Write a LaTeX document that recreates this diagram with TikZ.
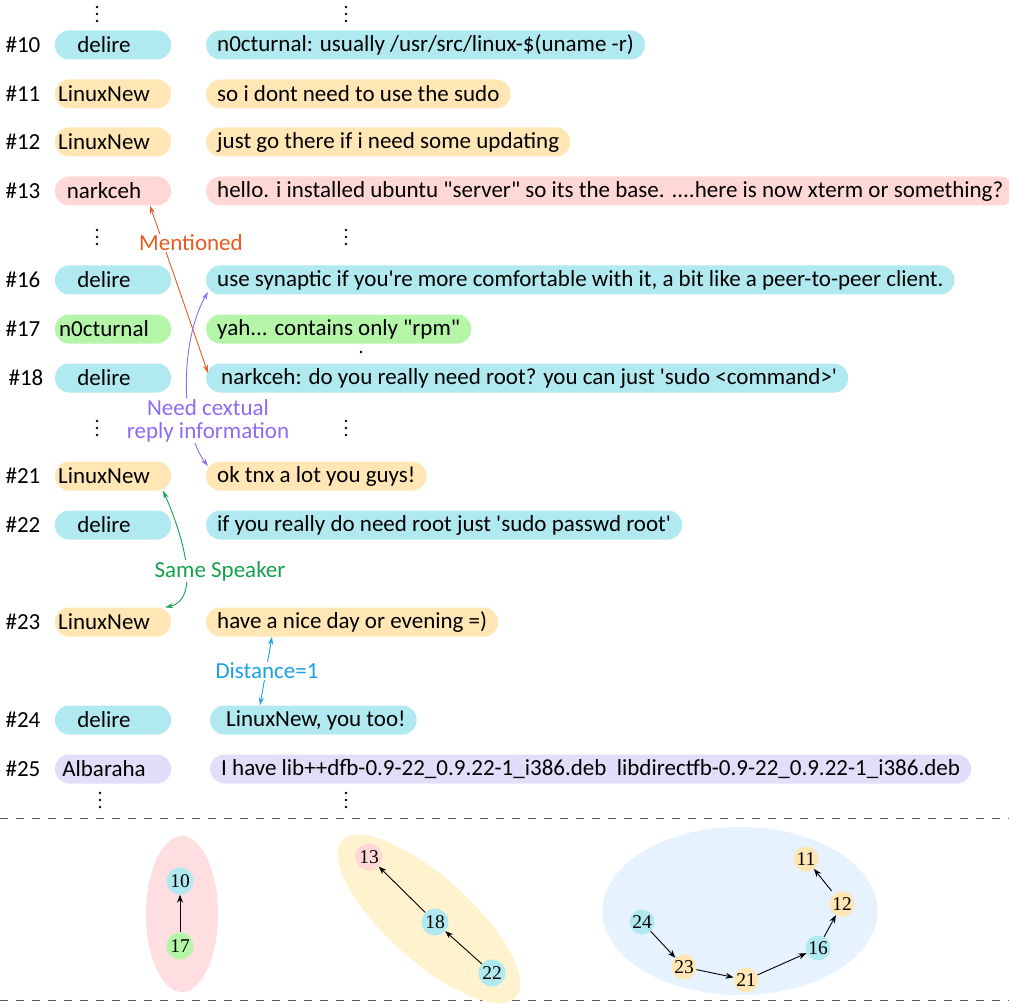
\documentclass[tikz,border=0pt]{standalone}
\usepackage{fontspec}
\newfontfamily\carl{Carlito}
\newfontfamily\numfont{Liberation Serif}
\usetikzlibrary{arrows.meta,shapes.geometric}
\definecolor{cy}{HTML}{B0EAF0}
\definecolor{yl}{HTML}{FFE6B4}
\definecolor{pk}{HTML}{FFD8D6}
\definecolor{gr}{HTML}{B4F5A8}
\definecolor{lv}{HTML}{E2DEFA}
\definecolor{ellpk}{HTML}{FFDEE1}
\definecolor{ellyl}{HTML}{FFF2CE}
\definecolor{ellbl}{HTML}{E6F2FE}
\definecolor{orA}{HTML}{E85A1E}
\definecolor{puA}{HTML}{8C6CF5}
\definecolor{grA}{HTML}{17A050}
\definecolor{blA}{HTML}{19A2E6}
\tikzset{
  idx/.style={inner sep=0pt},
  spk/.style={rounded corners=14pt, minimum width=116pt, minimum height=29pt, inner xsep=0pt, inner ysep=0pt,
    execute at begin node=\hspace*{-18pt}},
  msg/.style={rounded corners=14pt, minimum height=29pt, inner xsep=11pt, inner ysep=0pt, anchor=west},
  lab/.style={fill=white, inner sep=1pt},
  rel/.style={line width=0.9pt, {Stealth[length=8pt,width=5pt]}-{Stealth[length=8pt,width=5pt]}},
  gn/.style={circle, minimum size=27pt, inner sep=0pt, font=\numfont\fontsize{19.5}{19.5}\selectfont},
  ge/.style={line width=0.9pt, -{Stealth[length=8pt,width=6pt]}},
  vd/.pic={\fill (0,-7) circle[radius=1.4pt]; \fill (0,0) circle[radius=1.4pt]; \fill (0,7) circle[radius=1.4pt];}
}
\begin{document}
\begin{tikzpicture}[x=1pt,y=-1pt,font=\carl\fontsize{23}{23}\selectfont]
\useasboundingbox (0,0) rectangle (1009,1008);
% ellipses (vertical dots)
\pic at (97,14) {vd}; \pic at (346,14) {vd};
\pic at (97,237) {vd}; \pic at (346,237) {vd};
\pic at (97,428) {vd}; \pic at (346,428) {vd};
\pic at (100,800) {vd}; \pic at (346,800) {vd};
\fill (91,268) circle[radius=1.3pt];
\fill (361,352) circle[radius=1.3pt];
% rows
\node[idx] (i10) at (23,45) {\#10};
\node[spk, fill=cy] (s10) at (113,45) {delire};
\node[msg, fill=cy] (m10) at (206,45) {n0cturnal: usually /usr/src/linux-\$(uname -r)};
\node[idx] (i11) at (23,94) {\#11};
\node[spk, fill=yl] (s11) at (113,94) {LinuxNew};
\node[msg, fill=yl] (m11) at (206,94) {so i dont need to use the sudo};
\node[idx] (i12) at (23,142) {\#12};
\node[spk, fill=yl] (s12) at (113,142) {LinuxNew};
\node[msg, fill=yl] (m12) at (206,142) {just go there if i need some updating};
\node[idx] (i13) at (23,191) {\#13};
\node[spk, fill=pk] (s13) at (113,191) {narkceh};
\node[msg, fill=pk] (m13) at (206,191) {hello. i installed ubuntu "server" so its the base. ....here is now xterm or something?};
\node[idx] (i16) at (23,280) {\#16};
\node[spk, fill=cy] (s16) at (113,280) {delire};
\node[msg, fill=cy] (m16) at (206,280) {use synaptic if you're more comfortable with it, a bit like a peer-to-peer client.};
\node[idx] (i17) at (23,329) {\#17};
\node[spk, fill=gr] (s17) at (113,329) {n0cturnal};
\node[msg, fill=gr] (m17) at (206,329) {yah... contains only "rpm"};
\node[idx] (i18) at (26,378) {\#18};
\node[spk, fill=cy] (s18) at (113,378) {delire};
\node[msg, fill=cy] (m18) at (206,378) {\hspace*{4pt}narkceh: do you really need root? you can just 'sudo <command>'};
\node[idx] (i21) at (23,476) {\#21};
\node[spk, fill=yl] (s21) at (113,476) {LinuxNew};
\node[msg, fill=yl] (m21) at (206,476) {ok tnx a lot you guys!};
\node[idx] (i22) at (23,525) {\#22};
\node[spk, fill=cy] (s22) at (113,525) {delire};
\node[msg, fill=cy] (m22) at (206,525) {if you really do need root just 'sudo passwd root'};
\node[idx] (i23) at (23,622) {\#23};
\node[spk, fill=yl] (s23) at (113,622) {LinuxNew};
\node[msg, fill=yl] (m23) at (206,622) {have a nice day or evening =)};
\node[idx] (i24) at (23,720) {\#24};
\node[spk, fill=cy] (s24) at (113,720) {delire};
\node[msg, fill=cy] (m24) at (210,720) {\hspace*{5pt}LinuxNew, you too!};
\node[idx] (i25) at (23,769) {\#25};
\node[spk, fill=lv] (s25) at (113,769) {Albaraha};
\node[msg, fill=lv] (m25) at (210,769) {I have lib++dfb-0.9-22\_0.9.22-1\_i386.deb\ \ libdirectfb-0.9-22\_0.9.22-1\_i386.deb};
% relations
\draw[rel, orA] ([xshift=37pt]s13.south) -- ([shift={(2pt,5pt)}]m18.west);
\node[lab, text=orA] (lm) at (191,243) {Mentioned};
\draw[rel, puA] ([shift={(2pt,10pt)}]m21.west) .. controls (180,430) and (180,340) .. ([shift={(2pt,-12pt)}]m16.west);
\node[lab, text=puA, align=center] (lr) at (208,421) {Need cextual\\reply information};
\draw[rel, grA] ([xshift=50pt]s21.south) .. controls (185,540) and (200,600) .. ([xshift=-6pt]s23.north east);
\node[lab, text=grA] (ls) at (220,571) {Same Speaker};
\draw[rel, blA] ([xshift=66pt]m23.south west) -- ([xshift=50pt]m24.north west);
\node[lab, text=blA] (ld) at (267,671) {Distance=1};
% separators
\draw[line width=0.8pt, gray!70!black, dash pattern=on 8pt off 8pt] (0,818) -- (1009,818);
\draw[line width=0.8pt, gray!70!black, dash pattern=on 8pt off 8pt] (0,1000) -- (1009,1000);
% graphs
\node[ellipse, fill=ellpk, minimum width=72pt, minimum height=156pt, inner sep=0pt] (e1) at (182,914) {};
\node[ellipse, fill=ellyl, minimum width=234pt, minimum height=84pt, inner sep=0pt, rotate=-42] (e2) at (429,919) {};
\node[ellipse, fill=ellbl, minimum width=275pt, minimum height=168pt, inner sep=0pt] (e3) at (740,911) {};
\node[gn, fill=cy] (g10) at (180,881) {10};
\node[gn, fill=gr] (g17) at (180,946) {17};
\node[gn, fill=pk] (g13) at (369,857) {13};
\node[gn, fill=cy] (g18) at (435,922) {18};
\node[gn, fill=cy] (g22) at (492,973) {22};
\node[gn, fill=yl, minimum size=25pt] (g11) at (806,859) {11};
\node[gn, fill=yl, minimum size=25pt] (g12) at (842,904) {12};
\node[gn, fill=cy, minimum size=25pt] (g16) at (818,948) {16};
\node[gn, fill=yl, minimum size=25pt] (g21) at (746,980) {21};
\node[gn, fill=yl, minimum size=25pt] (g23) at (684,967) {23};
\node[gn, fill=cy, minimum size=25pt] (g24) at (642,922) {24};
\draw[ge] (g17) -- (g10);
\draw[ge] (g22) -- (g18);
\draw[ge] (g18) -- (g13);
\draw[ge] (g24) -- (g23);
\draw[ge] (g23) -- (g21);
\draw[ge] (g21) -- (g16);
\draw[ge] (g16) -- (g12);
\draw[ge, shorten <=4pt] (g12) -- (g11);
\end{tikzpicture}
\end{document}
